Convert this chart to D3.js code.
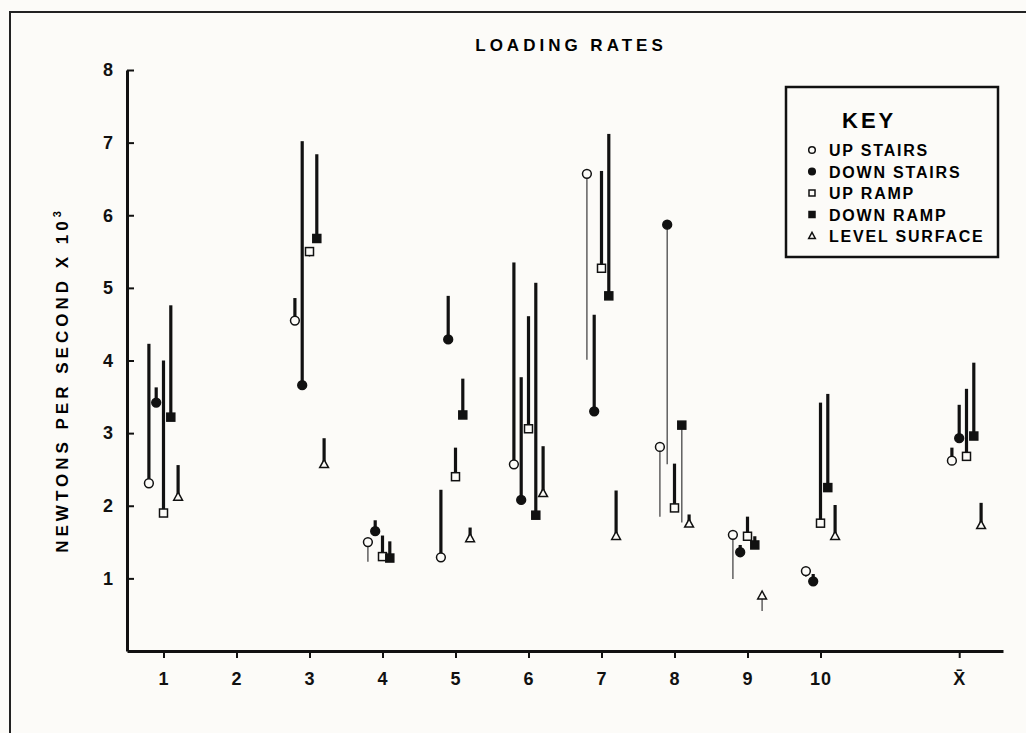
<!DOCTYPE html>
<html>
<head>
<meta charset="utf-8">
<script src="https://cdn.jsdelivr.net/npm/d3@7"></script>
<style>
  body { margin: 0; background: #fcfbf8; }
  svg { display: block; }
  .axis path, .axis line { stroke: #111; }
  .axis text { fill: #111; }
</style>
</head>
<body>
<script>
  'use strict';

  // subjects along the x axis, the last one is the mean
  var subjects = ['1', '2', '3', '4', '5', '6', '7', '8', '9', '10', 'X\u0304'];
  var groupPos = [1, 2, 3, 4, 5, 6, 7, 8, 9, 10, 12];
  var tickPos = [1, 2, 3, 4, 5, 6, 7, 8, 9, 10, 11.9];
  var yTicks = [1, 2, 3, 4, 5, 6, 7, 8];

  // marker value and the end of its bar (x 10^3 N/s), null = no data
  var upStairs      = [2.31, null, 4.55, 1.50, 1.29, 2.57, 6.57, 2.81, 1.60, 1.10, 2.62];
  var upStairsEnd   = [4.23, null, 4.86, 1.23, 2.22, 5.35, 4.01, 1.85, 0.99, 1.02, 2.80];
  var downStairs    = [3.42, null, 3.66, 1.65, 4.29, 2.08, 3.30, 5.87, 1.36, 0.96, 2.93];
  var downStairsEnd = [3.63, null, 7.02, 1.80, 4.89, 3.77, 4.63, 2.57, 1.46, 1.06, 3.39];
  var upRamp        = [1.90, null, 5.50, 1.30, 2.40, 3.06, 5.27, 1.97, 1.58, 1.76, 2.68];
  var upRampEnd     = [4.00, null, 5.43, 1.59, 2.80, 4.61, 6.61, 2.58, 1.85, 3.42, 3.61];
  var downRamp      = [3.22, null, 5.68, 1.28, 3.25, 1.87, 4.89, 3.11, 1.46, 2.25, 2.96];
  var downRampEnd   = [4.76, null, 6.84, 1.51, 3.75, 5.07, 7.12, 1.77, 1.58, 3.54, 3.97];
  var level         = [2.12, null, 2.57, null, 1.55, 2.17, 1.58, 1.75, 0.76, 1.58, 1.73];
  var levelEnd      = [2.56, null, 2.93, null, 1.70, 2.82, 2.21, 1.88, 0.55, 2.01, 2.04];

  var series = [
    { name: 'UP STAIRS',     shape: 'circle',   fill: false, vals: upStairs,   ends: upStairsEnd },
    { name: 'DOWN STAIRS',   shape: 'circle',   fill: true,  vals: downStairs, ends: downStairsEnd },
    { name: 'UP RAMP',       shape: 'square',   fill: false, vals: upRamp,     ends: upRampEnd },
    { name: 'DOWN RAMP',     shape: 'square',   fill: true,  vals: downRamp,   ends: downRampEnd },
    { name: 'LEVEL SURFACE', shape: 'triangle', fill: false, vals: level,      ends: levelEnd }
  ];

  const width = 1026,
    height = 733;

  var font = '"Liberation Sans", Arial, sans-serif';

  var svg = d3.select('body')
    .append('svg')
    .attr('width', width)
    .attr('height', height);

  // page frame (left and top edge of the scanned box)
  svg.append('path')
    .attr('d', 'M10,740 L10,12 L1040,12')
    .attr('fill', 'none')
    .attr('stroke', '#222')
    .attr('stroke-width', 2);

  var x = d3.scaleLinear().domain([0.5, 12.5]).range([127, 1003]);
  var y = d3.scaleLinear().domain([0, 8]).range([651, 70]);

  var xAxis = svg.append('g')
    .attr('class', 'axis')
    .attr('transform', 'translate(0,' + y(0) + ')')
    .call(d3.axisBottom(x)
      .tickValues(tickPos)
      .tickFormat((d, i) => subjects[i])
      .tickSize(7)
      .tickSizeOuter(0)
      .tickPadding(14));
  xAxis.select('.domain').attr('stroke-width', 3);
  xAxis.selectAll('.tick line').attr('stroke-width', 2);
  xAxis.selectAll('text')
    .style('font-family', font)
    .style('font-weight', 'bold')
    .style('font-size', '18px')
    .style('letter-spacing', '1px');

  var yAxis = svg.append('g')
    .attr('class', 'axis')
    .attr('transform', 'translate(' + x(0.5) + ',0)')
    .call(d3.axisLeft(y)
      .tickValues(yTicks)
      .tickSize(-7)
      .tickSizeOuter(0)
      .tickPadding(14));
  yAxis.select('.domain').attr('stroke-width', 3);
  yAxis.selectAll('.tick line').attr('stroke-width', 2);
  yAxis.selectAll('text')
    .style('font-family', font)
    .style('font-weight', 'bold')
    .style('font-size', '18px');

  svg.append('text')
    .attr('x', 571)
    .attr('y', 51)
    .attr('text-anchor', 'middle')
    .style('font-family', font)
    .style('font-weight', 'bold')
    .style('font-size', '17px')
    .style('letter-spacing', '4px')
    .text('LOADING RATES');

  var ylab = svg.append('text')
    .attr('transform', 'translate(68,380) rotate(-90)')
    .attr('text-anchor', 'middle')
    .style('font-family', font)
    .style('font-weight', 'bold')
    .style('font-size', '17px')
    .style('letter-spacing', '4px')
    .text('NEWTONS PER SECOND X 10');
  ylab.append('tspan')
    .attr('dy', -7)
    .style('font-size', '11px')
    .text('3');

  function drawMarker(g, shape, filled, cx, cy, s) {
    var m;
    if (shape === 'circle') {
      m = g.append('circle').attr('cx', cx).attr('cy', cy).attr('r', s * 0.55);
    } else if (shape === 'square') {
      m = g.append('rect')
        .attr('x', cx - s / 2).attr('y', cy - s / 2)
        .attr('width', s).attr('height', s);
    } else {
      m = g.append('path')
        .attr('d', 'M' + cx + ',' + (cy - s * 0.6) +
          'L' + (cx + s * 0.55) + ',' + (cy + s * 0.4) +
          'L' + (cx - s * 0.55) + ',' + (cy + s * 0.4) + 'Z');
    }
    m.attr('fill', filled ? '#111' : '#fcfbf8')
      .attr('stroke', '#111')
      .attr('stroke-width', 1.5);
  }

  var offsets = [-0.2, -0.1, 0, 0.1, 0.2];
  var plot = svg.append('g');

  series.forEach(function (s, k) {
    var pts = s.vals.map(function (v, i) {
      return { v: v, e: s.ends[i], p: groupPos[i] + offsets[k] };
    }).filter(d => d.v !== null);

    // bars: rising ranges are heavy, falling ones are thin
    plot.append('g').selectAll('line')
      .data(pts)
      .enter()
      .append('line')
      .attr('x1', d => x(d.p))
      .attr('x2', d => x(d.p))
      .attr('y1', d => y(d.v))
      .attr('y2', d => y(d.e))
      .attr('stroke', d => d.e > d.v ? '#111' : '#555')
      .attr('stroke-width', d => d.e > d.v ? 3.2 : 1.4);

    var mg = plot.append('g');
    pts.forEach(function (d) {
      drawMarker(mg, s.shape, s.fill, x(d.p), y(d.v), 8);
    });
  });

  // key box
  var key = svg.append('g').attr('transform', 'translate(786,87)');
  key.append('rect')
    .attr('width', 212)
    .attr('height', 170)
    .attr('fill', 'none')
    .attr('stroke', '#111')
    .attr('stroke-width', 2.5);
  key.append('text')
    .attr('x', 56)
    .attr('y', 41)
    .style('font-family', font)
    .style('font-weight', 'bold')
    .style('font-size', '22px')
    .style('letter-spacing', '3px')
    .text('KEY');

  var rows = key.selectAll('.row')
    .data(series)
    .enter()
    .append('g')
    .attr('class', 'row')
    .attr('transform', (d, i) => 'translate(0,' + (63 + i * 21.5) + ')');
  rows.each(function (d) {
    drawMarker(d3.select(this), d.shape, d.fill, 26, 0, 6);
  });
  rows.append('text')
    .attr('x', 43)
    .attr('y', 6)
    .style('font-family', font)
    .style('font-weight', 'bold')
    .style('font-size', '16px')
    .style('letter-spacing', '1.8px')
    .text(d => d.name);
</script>
</body>
</html>
